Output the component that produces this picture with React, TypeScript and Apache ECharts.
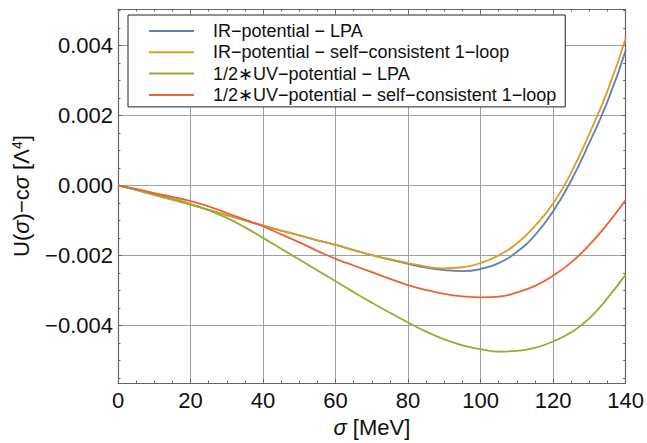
import React, { useEffect, useRef } from "react";
import * as echarts from "echarts";

const sigma = [0, 5, 10, 15, 20, 25, 30, 35, 40, 45, 50, 55, 60, 65, 70, 75, 80, 85, 90, 95, 100, 105, 110, 115, 120, 125, 130, 135, 140];

const irLPA = [0, -0.00013, -0.00027, -0.00041, -0.00055, -0.0007, -0.00085, -0.001, -0.00115, -0.00129, -0.00143, -0.00157, -0.0017, -0.00185, -0.00199, -0.00212, -0.00224, -0.00235, -0.00242, -0.00245, -0.00239, -0.00222, -0.0019, -0.00142, -0.00074, 0.00014, 0.00122, 0.0024, 0.00385];
const irSC = [0, -0.00013, -0.00027, -0.00041, -0.00055, -0.0007, -0.00085, -0.001, -0.00115, -0.00129, -0.00143, -0.00157, -0.0017, -0.00185, -0.00199, -0.00211, -0.00222, -0.00232, -0.00237, -0.00234, -0.00222, -0.002, -0.00166, -0.00116, -0.00052, 0.00037, 0.00148, 0.0027, 0.0042];
const uvLPA = [0, -0.00012, -0.00025, -0.00038, -0.00053, -0.00071, -0.00093, -0.0012, -0.0015, -0.00181, -0.00212, -0.00243, -0.00274, -0.00305, -0.00335, -0.00364, -0.00392, -0.00418, -0.0044, -0.00457, -0.00468, -0.00475, -0.00473, -0.00464, -0.00446, -0.0042, -0.0038, -0.00322, -0.00255];
const uvSC = [0, -0.0001, -0.00022, -0.00033, -0.00045, -0.0006, -0.00079, -0.00098, -0.00117, -0.0014, -0.00163, -0.00187, -0.0021, -0.00229, -0.00248, -0.00267, -0.00285, -0.00299, -0.0031, -0.00317, -0.0032, -0.00318, -0.00306, -0.00287, -0.00258, -0.0022, -0.0017, -0.0011, -0.00042];

const seriesNames = [
  "IR\u2212potential \u2212 LPA",
  "IR\u2212potential \u2212 self\u2212consistent 1\u2212loop",
  "1/2\u2217UV\u2212potential \u2212 LPA",
  "1/2\u2217UV\u2212potential \u2212 self\u2212consistent 1\u2212loop",
];
const seriesValues = [irLPA, irSC, uvLPA, uvSC];
const colors = ["#5E81B5", "#E19C24", "#8FB032", "#EB6235"];

const X_MIN = 0;
const X_MAX = 140;
const Y_MIN = -0.00565;
const Y_MAX = 0.00504;

const FONT = "'Liberation Sans', Arial, sans-serif";
const FRAME = "#666";
const GRID = "#a0a0a0";

export default function App() {
  const ref = useRef<HTMLDivElement>(null);
  useEffect(() => {
    if (!ref.current) return;
    const chart = echarts.init(ref.current, undefined, { renderer: "svg" });
    const yCommon = {
      type: "value",
      min: Y_MIN,
      max: Y_MAX,
      scale: true,
    };
    const option = {
      animation: false,
      backgroundColor: "#fff",
      textStyle: { fontFamily: FONT },
      grid: { left: 118, top: 9, width: 509, height: 380, containLabel: false },
      legend: {
        orient: "vertical",
        left: 128,
        top: 15,
        padding: [7, 9, 3, 21],
        itemGap: 3.3,
        itemWidth: 45,
        itemHeight: 2,
        icon: "rect",
        backgroundColor: "#fff",
        borderColor: "#222",
        borderWidth: 1,
        selectedMode: false,
        textStyle: { fontFamily: FONT, fontSize: 18, color: "#111", padding: [0, 0, 0, 14] },
        data: seriesNames,
      },
      xAxis: [
        {
          type: "value",
          min: X_MIN,
          max: X_MAX,
          interval: 20,
          position: "bottom",
          name: "{i|\u03c3}{n| [MeV]}",
          nameLocation: "middle",
          nameGap: 26,
          nameTextStyle: {
            rich: {
              i: { fontFamily: FONT, fontSize: 22, fontStyle: "italic", color: "#111" },
              n: { fontFamily: FONT, fontSize: 22, color: "#111" },
            },
          },
          axisLine: { show: true, onZero: false, lineStyle: { color: FRAME, width: 1.2 } },
          axisTick: { show: true, inside: true, length: 4, lineStyle: { color: FRAME } },
          minorTick: { show: true, splitNumber: 4, length: 2.5, lineStyle: { color: FRAME } },
          axisLabel: { fontFamily: FONT, fontSize: 22, color: "#111", margin: 6 },
          splitLine: { show: true, lineStyle: { color: GRID, width: 1 } },
        },
        {
          type: "value",
          min: X_MIN,
          max: X_MAX,
          interval: 20,
          position: "top",
          axisLine: { show: true, onZero: false, lineStyle: { color: FRAME, width: 1.2 } },
          axisTick: { show: true, inside: true, length: 4, lineStyle: { color: FRAME } },
          minorTick: { show: true, splitNumber: 4, length: 2.5, lineStyle: { color: FRAME } },
          axisLabel: { show: false },
          splitLine: { show: false },
        },
      ],
      yAxis: [
        {
          ...yCommon,
          position: "left",
          splitNumber: 5,
          minInterval: 0.002,
          maxInterval: 0.002,
          name: "{n|U(}{i|\u03c3}{n|)\u2212c}{i|\u03c3}{n| [\u039b}{s|4}{n|]}",
          nameLocation: "middle",
          nameGap: 86,
          nameTextStyle: {
            rich: {
              i: { fontFamily: FONT, fontSize: 22, fontStyle: "italic", color: "#111" },
              n: { fontFamily: FONT, fontSize: 22, color: "#111" },
              s: { fontFamily: FONT, fontSize: 14, color: "#111", verticalAlign: "top" },
            },
          },
          axisLine: { show: true, onZero: false, lineStyle: { color: FRAME, width: 1.2 } },
          axisTick: { show: true, inside: true, length: 4, lineStyle: { color: FRAME } },
          axisLabel: {
            fontFamily: FONT,
            fontSize: 22,
            color: "#111",
            margin: 5,
            showMinLabel: false,
            showMaxLabel: false,
            formatter: (v: number) => {
              const s = (Math.abs(v) < 1e-9 ? 0 : v).toFixed(3);
              return s.replace("-", "\u2212");
            },
          },
          splitLine: { show: true, lineStyle: { color: GRID, width: 1 } },
        },
        {
          ...yCommon,
          position: "left",
          splitNumber: 20,
          minInterval: 0.0005,
          maxInterval: 0.0005,
          axisLine: { show: false, onZero: false },
          axisTick: { show: true, inside: true, length: 2.5, lineStyle: { color: FRAME } },
          axisLabel: { show: false },
          splitLine: { show: false },
        },
        {
          ...yCommon,
          position: "right",
          splitNumber: 5,
          minInterval: 0.002,
          maxInterval: 0.002,
          axisLine: { show: true, onZero: false, lineStyle: { color: FRAME, width: 1.2 } },
          axisTick: { show: true, inside: true, length: 4, lineStyle: { color: FRAME } },
          axisLabel: { show: false },
          splitLine: { show: false },
        },
        {
          ...yCommon,
          position: "right",
          splitNumber: 20,
          minInterval: 0.0005,
          maxInterval: 0.0005,
          axisLine: { show: false, onZero: false },
          axisTick: { show: true, inside: true, length: 2.5, lineStyle: { color: FRAME } },
          axisLabel: { show: false },
          splitLine: { show: false },
        },
      ],
      series: seriesNames.map((name, i) => ({
        name,
        type: "line",
        xAxisIndex: 0,
        yAxisIndex: 0,
        smooth: 0.5,
        symbol: "none",
        color: colors[i],
        lineStyle: { color: colors[i], width: 1.8 },
        data: sigma.map((x, j) => [x, seriesValues[i][j]]),
        z: 2 + i,
      })),
    };
    chart.setOption(option as any);
    return () => chart.dispose();
  }, []);
  return (
    <div
      ref={ref}
      style={{ position: "fixed", left: 0, top: 0, width: 647, height: 443, background: "#fff" }}
    />
  );
}
